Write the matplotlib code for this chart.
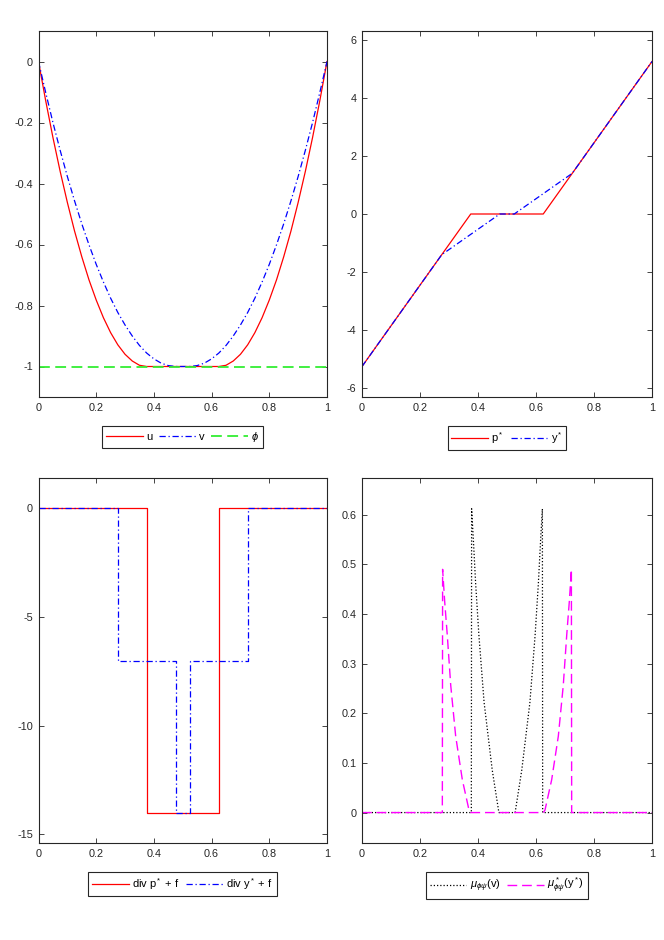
import numpy as np
import matplotlib
matplotlib.use('Agg')
import matplotlib.pyplot as plt

plt.rcParams['font.family'] = ['Liberation Sans', 'DejaVu Sans']
plt.rcParams['font.size'] = 7.5
plt.rcParams['axes.unicode_minus'] = False
plt.rcParams['mathtext.fontset'] = 'custom'
plt.rcParams['mathtext.rm'] = 'Liberation Sans'
plt.rcParams['mathtext.it'] = 'Liberation Sans:italic'

# ---- data ----
# top left: u (solution), v (approximation), phi (obstacle)
x_u = [0, 0.025, 0.05, 0.075, 0.1, 0.125, 0.15, 0.175, 0.2, 0.225, 0.25, 0.275, 0.3, 0.325, 0.35, 0.375,
       0.625, 0.65, 0.675, 0.7, 0.725, 0.75, 0.775, 0.8, 0.825, 0.85, 0.875, 0.9, 0.925, 0.95, 0.975, 1]
u = [0, -0.129, -0.249, -0.36, -0.462, -0.556, -0.64, -0.716, -0.782, -0.84, -0.889, -0.929, -0.96, -0.982, -0.996, -1,
     -1, -0.996, -0.982, -0.96, -0.929, -0.889, -0.84, -0.782, -0.716, -0.64, -0.556, -0.462, -0.36, -0.249, -0.129, 0]
x_v = [0, 0.025, 0.05, 0.075, 0.1, 0.125, 0.15, 0.175, 0.2, 0.225, 0.25, 0.275, 0.3, 0.325, 0.35, 0.375, 0.4, 0.425, 0.45, 0.475,
       0.525, 0.55, 0.575, 0.6, 0.625, 0.65, 0.675, 0.7, 0.725, 0.75, 0.775, 0.8, 0.825, 0.85, 0.875, 0.9, 0.925, 0.95, 0.975, 1]
v = [0, -0.102, -0.2, -0.291, -0.377, -0.457, -0.532, -0.601, -0.665, -0.723, -0.776, -0.823, -0.864, -0.9, -0.931,
     -0.956, -0.975, -0.989, -0.997, -1,
     -1, -0.997, -0.989, -0.975, -0.956, -0.931, -0.9, -0.864, -0.823, -0.776, -0.723, -0.665, -0.601, -0.532,
     -0.457, -0.377, -0.291, -0.2, -0.102, 0]
x_phi = [0, 1]
phi = [-1, -1]

# top right: p* and y*
x_p = [0, 0.375, 0.625, 1]
p_star = [-5.25, 0, 0, 5.25]
x_y = [0, 0.275, 0.475, 0.525, 0.725, 1]
y_star = [-5.25, -1.4, 0, 0, 1.4, 5.25]

# bottom left: div p* + f and div y* + f
x_dp = [0, 0.375, 0.375, 0.625, 0.625, 1]
div_p = [0, 0, -14, -14, 0, 0]
x_dy = [0, 0.275, 0.275, 0.475, 0.475, 0.525, 0.525, 0.725, 0.725, 1]
div_y = [0, 0, -7, -7, -14, -14, -7, -7, 0, 0]

# bottom right: mu(v) and mu*(y*)
x_mu = [0, 0.377, 0.378, 0.383, 0.392, 0.403, 0.421, 0.449, 0.472,
        0.528, 0.551, 0.579, 0.597, 0.608, 0.617, 0.622, 0.623, 1]
mu_v = [0, 0, 0.612, 0.561, 0.46, 0.358, 0.222, 0.086, 0,
        0, 0.086, 0.222, 0.358, 0.46, 0.561, 0.612, 0, 0]
x_mus = [0, 0.277, 0.278, 0.285, 0.294, 0.306, 0.323, 0.346, 0.369, 0.375,
         0.625, 0.631, 0.654, 0.677, 0.694, 0.706, 0.715, 0.722, 0.723, 1]
mu_star = [0, 0, 0.49, 0.426, 0.358, 0.256, 0.154, 0.066, 0.005, 0,
           0, 0.005, 0.066, 0.154, 0.256, 0.358, 0.426, 0.49, 0, 0]

xticks = [0, 0.2, 0.4, 0.6, 0.8, 1]

# octave-like line patterns (in points)
DASH = (7, 3.5)
DASHDOT = (5, 2.2, 1, 2.2)
DOT = (1, 1.6)

fig = plt.figure(figsize=(6.64, 9.4), dpi=100)
W, H = 664.0, 940.0


def make_axes(left, right, top, bottom):
    return fig.add_axes([left / W, 1 - bottom / H, (right - left) / W, (bottom - top) / H])


def style(ax, yticks, ylim):
    ax.set_xlim(0, 1)
    ax.set_ylim(*ylim)
    ax.set_xticks(xticks)
    ax.set_xticklabels(['%g' % t for t in xticks])
    ax.set_yticks(yticks)
    ax.set_yticklabels(['%g' % t for t in yticks])
    ax.tick_params(direction='in', top=True, right=True, length=3.5, width=0.6,
                   colors='#262626', labelsize=7.8, pad=4)
    for s in ax.spines.values():
        s.set_linewidth(0.8)
        s.set_color('#262626')


def legend(ax, ncol):
    leg = ax.legend(loc='upper center', bbox_to_anchor=(0.5, -0.08), ncol=ncol,
                    borderaxespad=0, fancybox=False, framealpha=1, edgecolor='#262626',
                    handlelength=3.3, handletextpad=0.3, columnspacing=0.6,
                    borderpad=0.35, fontsize=8)
    leg.get_frame().set_linewidth(0.8)


ax1 = make_axes(38.5, 327, 31, 397)
ax1.plot(x_u, u, '-', color='#ff0000', lw=0.9, label='u')
ax1.plot(x_v, v, color='#0000ff', lw=0.9, dashes=DASHDOT, label='v')
ax1.plot(x_phi, phi, color='#33ee33', lw=1.3, dashes=(6, 3), label=r'$\phi$')
style(ax1, [-1, -0.8, -0.6, -0.4, -0.2, 0], (-1.1, 0.1))
legend(ax1, 3)

ax2 = make_axes(362, 652, 31, 397)
ax2.plot(x_p, p_star, '-', color='#ff0000', lw=0.9, label=r'p$^*$')
ax2.plot(x_y, y_star, color='#0000ff', lw=0.9, dashes=DASHDOT, label=r'y$^*$')
style(ax2, [-6, -4, -2, 0, 2, 4, 6], (-6.3, 6.3))
legend(ax2, 2)

ax3 = make_axes(38.5, 327, 478, 843)
ax3.plot(x_dp, div_p, '-', color='#ff0000', lw=0.9, label=r'div p$^*$ + f')
ax3.plot(x_dy, div_y, color='#0000ff', lw=0.9, dashes=DASHDOT, label=r'div y$^*$ + f')
style(ax3, [-15, -10, -5, 0], (-15.4, 1.4))
legend(ax3, 2)

ax4 = make_axes(362, 652, 478, 843)
ax4.plot(x_mu, mu_v, color='black', lw=0.9, dashes=DOT, label=r'$\mu_{\phi\psi}$(v)')
ax4.plot(x_mus, mu_star, color='#ff00ff', lw=1.0, dashes=DASH, label=r'$\mu^*_{\phi\psi}$(y$^*$)')
style(ax4, [0, 0.1, 0.2, 0.3, 0.4, 0.5, 0.6], (-0.0613, 0.674))
legend(ax4, 2)

fig.savefig('out.png', dpi=100)
